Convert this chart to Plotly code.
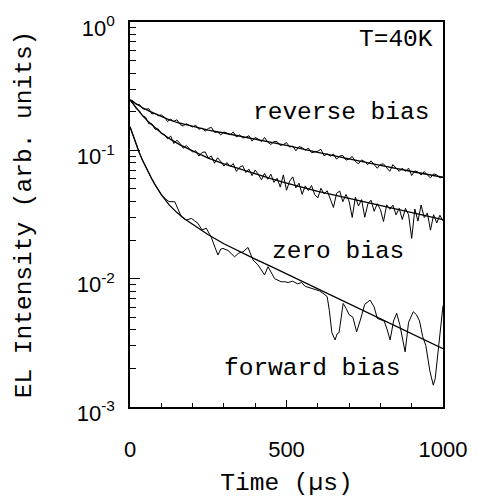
import plotly.graph_objects as go

# ---------------- data ----------------
t_step = [0, 10, 20, 30, 40, 50, 60, 70, 80, 90, 100, 110, 120, 130, 140, 150, 160, 170, 180, 190,
          200, 210, 220, 230, 240, 250, 260, 270, 280, 290, 300, 310, 320, 330, 340, 350, 360, 370, 380, 390,
          400, 410, 420, 430, 440, 450, 460, 470, 480, 490, 500, 510, 520, 530, 540, 550, 560, 570, 580, 590,
          600, 610, 620, 630, 640, 650, 660, 670, 680, 690, 700, 710, 720, 730, 740, 750, 760, 770, 780, 790,
          800, 810, 820, 830, 840, 850, 860, 870, 880, 890, 900, 910, 920, 930, 940, 950, 960, 970, 980, 990, 1000]

reverse_data = [0.247, 0.243, 0.227, 0.228, 0.211, 0.209, 0.211, 0.192, 0.194, 0.186,
                0.189, 0.181, 0.168, 0.175, 0.168, 0.173, 0.159, 0.155, 0.161, 0.157,
                0.152, 0.157, 0.146, 0.149, 0.141, 0.148, 0.151, 0.138, 0.139, 0.132,
                0.139, 0.136, 0.132, 0.139, 0.127, 0.132, 0.125, 0.126, 0.130, 0.118,
                0.126, 0.122, 0.117, 0.126, 0.116, 0.111, 0.117, 0.117, 0.109, 0.111,
                0.115, 0.106, 0.108, 0.099, 0.107, 0.105, 0.100, 0.104, 0.096, 0.097,
                0.0985, 0.102, 0.0905, 0.094, 0.090, 0.0936, 0.0853, 0.0905, 0.0911, 0.084,
                0.0855, 0.0896, 0.0819, 0.0785, 0.0842, 0.0815, 0.0774, 0.0828, 0.0772, 0.0725,
                0.0777, 0.0784, 0.0731, 0.0686, 0.0774, 0.0722, 0.0685, 0.0727, 0.0685, 0.0726,
                0.0636, 0.0691, 0.0677, 0.0643, 0.0682, 0.0643, 0.0611, 0.0655, 0.0643, 0.0611, 0.0617]

zero_data = [0.247, 0.231, 0.211, 0.203, 0.186, 0.181, 0.161, 0.161, 0.146, 0.147,
             0.135, 0.133, 0.123, 0.129, 0.113, 0.120, 0.113, 0.104, 0.109, 0.103,
             0.0969, 0.0993, 0.0902, 0.0962, 0.0973, 0.0871, 0.0904, 0.0794, 0.0875, 0.0818,
             0.0754, 0.0802, 0.0749, 0.0788, 0.0685, 0.0737, 0.0760, 0.0671, 0.0714, 0.0635,
             0.0702, 0.0651, 0.0590, 0.0660, 0.0595, 0.0651, 0.0563, 0.0606, 0.0517, 0.0644,
             0.0489, 0.0575, 0.0621, 0.0510, 0.0555, 0.0454, 0.0528, 0.0486, 0.0532, 0.0452,
             0.0426, 0.0506, 0.0458, 0.0484, 0.0410, 0.0359, 0.0462, 0.0482, 0.0398, 0.0453,
             0.0401, 0.0300, 0.0432, 0.0369, 0.0413, 0.0301, 0.0383, 0.0409, 0.0335, 0.0384,
             0.0346, 0.0279, 0.0376, 0.0347, 0.0374, 0.0314, 0.0354, 0.0289, 0.0353, 0.0315,
             0.0206, 0.0349, 0.0281, 0.0375, 0.0299, 0.0325, 0.0239, 0.0315, 0.0272, 0.0312, 0.0282]

forward_t = [0, 10, 20, 30, 40, 50, 60, 70, 80, 90, 100, 111, 125, 143, 155, 164, 180, 196, 217, 230,
             244, 260, 272, 281, 290, 297, 313, 334, 347, 361, 377, 393, 409, 430, 441, 462, 483, 495, 505, 520,
             535, 548, 560, 575, 590, 605, 620, 630, 637, 645, 655, 662, 668, 681, 690, 700, 712, 724, 735, 750,
             767, 780, 790, 800, 812, 822, 831, 842, 852, 862, 879, 890, 905, 915, 925, 935, 945, 958, 969, 975,
             985, 995, 1000]
forward_data = [0.1528, 0.1288, 0.1102, 0.0955, 0.0838, 0.0741, 0.0661, 0.0596, 0.0540, 0.0495,
                0.0452, 0.0423, 0.0398, 0.0398, 0.0339, 0.0304, 0.0286, 0.0295, 0.0270, 0.0240,
                0.0247, 0.0209, 0.0174, 0.0153, 0.0170, 0.0172, 0.0166, 0.0148, 0.0158, 0.0162,
                0.0175, 0.0140, 0.0128, 0.0107, 0.0124, 0.0100, 0.00946, 0.00946, 0.00933, 0.00955,
                0.00912, 0.00933, 0.00871, 0.00851, 0.00832, 0.00804, 0.00759, 0.00724, 0.00562, 0.00380,
                0.00333, 0.00372, 0.00380, 0.00641, 0.00589, 0.00525, 0.00501, 0.00385, 0.00468, 0.00631,
                0.00681, 0.00603, 0.00490, 0.00479, 0.00468, 0.00398, 0.00333, 0.00468, 0.00537, 0.00437,
                0.00269, 0.00457, 0.00552, 0.00525, 0.00468, 0.00355, 0.00302, 0.00191, 0.00148, 0.00166,
                0.00282, 0.00468, 0.00617]

# fitted curves
reverse_fit_t = [0, 20, 40, 60, 80, 100, 120, 150, 200, 250, 300, 350, 400, 450, 500, 600, 700, 800, 900, 1000]
reverse_fit = [0.2472, 0.2291, 0.2148, 0.2028, 0.1923, 0.1832, 0.1750, 0.1648, 0.1531, 0.1439,
               0.1365, 0.1291, 0.1225, 0.1159, 0.1094, 0.0966, 0.0855, 0.0762, 0.0684, 0.0617]

zero_fit_t = [0, 20, 40, 60, 80, 100, 130, 160, 200, 250, 300, 350, 400, 450, 500, 600, 700, 800, 900, 1000]
zero_fit = [0.2472, 0.2128, 0.1862, 0.1660, 0.1493, 0.1365, 0.1216, 0.1104, 0.0989, 0.0871,
            0.0785, 0.0716, 0.0656, 0.0603, 0.0556, 0.0479, 0.0422, 0.0372, 0.0327, 0.0288]

forward_fit_t = [0, 10, 20, 30, 40, 50, 60, 70, 80, 100, 125, 150, 175, 200, 250, 300, 350, 400,
                 450, 500, 600, 700, 800, 900, 1000]
forward_fit = [0.1528, 0.1288, 0.1102, 0.0955, 0.0838, 0.0741, 0.0661, 0.0596, 0.0540, 0.0452,
               0.0376, 0.0327, 0.0292, 0.0267, 0.0220, 0.0187, 0.0162, 0.0142, 0.01245, 0.0109,
               0.00832, 0.00635, 0.00486, 0.00373, 0.00285]

y_tick_vals = [0.001, 0.01, 0.1, 1]
y_tick_text = ["10<sup>-3</sup>", "10<sup>-2</sup>", "10<sup>-1</sup>", "10<sup>0</sup>"]
y_minor_vals = [m * d for d in (0.001, 0.01, 0.1) for m in range(2, 10)]
x_tick_vals = [0, 500, 1000]
x_tick_text = ["0", "500", "1000"]
x_minor_vals = [100, 200, 300, 400, 600, 700, 800, 900]

labels = [
    ("T=40K", 850, -0.136),
    ("reverse bias", 674, -0.709),
    ("zero bias", 665, -1.785),
    ("forward bias", 580, -2.697),
]

# ---------------- figure ----------------
MONO = "Liberation Mono, Courier New, monospace"
SANS = "Liberation Sans, Arial, sans-serif"

fig = go.Figure()
for xs, ys in [(t_step, reverse_data), (t_step, zero_data), (forward_t, forward_data)]:
    fig.add_trace(go.Scatter(x=xs, y=ys, mode="lines", line=dict(color="black", width=1),
                             showlegend=False, hoverinfo="skip"))
for xs, ys in [(reverse_fit_t, reverse_fit), (zero_fit_t, zero_fit), (forward_fit_t, forward_fit)]:
    fig.add_trace(go.Scatter(x=xs, y=ys, mode="lines", line=dict(color="black", width=1.3),
                             showlegend=False, hoverinfo="skip"))

for text, x, y in labels:
    fig.add_annotation(text=text, x=x, y=y, xref="x", yref="y", showarrow=False,
                       xanchor="center", yanchor="middle",
                       font=dict(family=MONO, size=24.5, color="black"))

fig.update_xaxes(
    range=[0, 1000], showgrid=False, zeroline=False,
    showline=True, linecolor="black", linewidth=1.5, mirror=True,
    tickmode="array", tickvals=x_tick_vals, ticktext=x_tick_text,
    ticks="inside", ticklen=7, tickwidth=1, tickcolor="black",
    ticklabelstandoff=22,
    tickfont=dict(family=SANS, size=22, color="black"),
    minor=dict(tickmode="array", tickvals=x_minor_vals, ticks="inside", ticklen=4,
               tickwidth=1, tickcolor="black", showgrid=False),
    title=dict(text="Time (µs)", font=dict(family=MONO, size=24.5, color="black"), standoff=14),
)
fig.update_yaxes(
    type="log", range=[-3, 0], showgrid=False, zeroline=False,
    showline=True, linecolor="black", linewidth=1.5, mirror=True,
    tickmode="array", tickvals=y_tick_vals, ticktext=y_tick_text,
    ticks="inside", ticklen=10, tickwidth=1, tickcolor="black",
    ticklabelstandoff=9, ticklabelshift=6,
    tickfont=dict(family=SANS, size=22, color="black"),
    minor=dict(tickmode="array", tickvals=y_minor_vals, ticks="inside", ticklen=6,
               tickwidth=1, tickcolor="black", showgrid=False),
    title=dict(text="EL Intensity (arb. units)", font=dict(family=MONO, size=24.5, color="black"),
               standoff=38),
)
fig.update_layout(
    width=479, height=497,
    margin=dict(l=130, r=36, t=22, b=90, autoexpand=False),
    paper_bgcolor="white", plot_bgcolor="white",
    showlegend=False,
)
fig.write_html("out.html")
